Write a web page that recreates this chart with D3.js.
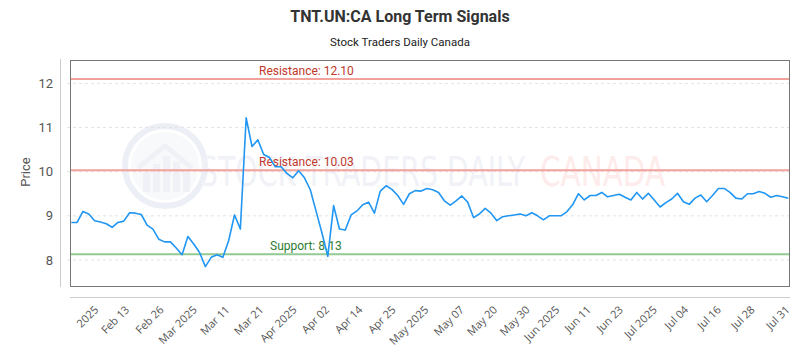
<!DOCTYPE html>
<html><head><meta charset="utf-8">
<script src="https://cdn.jsdelivr.net/npm/d3@7"></script>
<style>body{margin:0;background:#fff}svg{display:block;font-family:Roboto,"Open Sans",sans-serif}</style>
</head><body><svg id="c" width="800" height="350"></svg>
<script>
const title = "TNT.UN:CA Long Term Signals";
const subtitle = "Stock Traders Daily Canada";
const prices = [8.85,8.85,9.10,9.04,8.89,8.86,8.82,8.74,8.85,8.88,9.07,9.06,9.03,8.79,8.70,8.47,8.41,8.41,8.27,8.12,
8.53,8.36,8.17,7.85,8.06,8.12,8.06,8.44,9.02,8.70,11.22,10.57,10.72,10.39,10.32,10.11,10.11,9.96,9.86,10.02,
9.86,9.59,9.10,8.61,8.08,9.23,8.70,8.68,9.02,9.11,9.25,9.31,9.06,9.56,9.68,9.60,9.46,9.26,9.50,9.57,
9.56,9.62,9.59,9.53,9.34,9.24,9.34,9.45,9.31,8.96,9.04,9.17,9.06,8.89,8.98,9.00,9.02,9.04,9.00,9.07,
9.00,8.91,9.00,9.00,9.00,9.09,9.25,9.50,9.36,9.46,9.46,9.53,9.43,9.46,9.49,9.42,9.36,9.53,9.38,9.51,
9.36,9.20,9.30,9.38,9.51,9.32,9.26,9.40,9.47,9.32,9.46,9.62,9.62,9.53,9.40,9.38,9.50,9.50,9.55,9.51,
9.42,9.46,9.43,9.40];
const tickIdx = [3.5,8.8,14.7,20.4,26,31.8,37.5,43.1,48.8,54.5,60.1,66.2,71.9,77.5,82.6,88,93.5,99.3,104.7,110.3,116.1,122.1];
const tickLabels = ["2025","Feb 13","Feb 26","Mar 2025","Mar 11","Mar 21","Apr 2025","Apr 02","Apr 14","Apr 25","May 2025","May 07","May 20","May 30","Jun 2025","Jun 11","Jun 23","Jul 2025","Jul 04","Jul 16","Jul 28","Jul 31"];
const yTicks = [8,9,10,11,12];
const levelNames = ["Resistance","Resistance","Support"];
const levelValues = [12.10,10.03,8.13];
const levelKinds = ["r","r","s"];

const svg = d3.select("#c");
const L=70,R=790,T=60,B=286;
const x = d3.scaleLinear().domain([0,prices.length-1]).range([71.3,788.3]);
const y = d3.scaleLinear().domain([7.41,12.53]).range([B,T]);

// titles
svg.append("text").attr("x",400).attr("y",22).attr("text-anchor","middle")
  .attr("font-size",16).attr("font-weight","bold").attr("fill","#333").text(title);
svg.append("text").attr("x",400).attr("y",46).attr("text-anchor","middle")
  .attr("font-size",11.5).attr("fill","#222").text(subtitle);

// watermark
const wm = svg.append("g").attr("opacity",0.45);
wm.append("circle").attr("cx",165).attr("cy",166).attr("r",40).attr("fill","none").attr("stroke","#d7dde9").attr("stroke-width",6);
wm.append("circle").attr("cx",165).attr("cy",166).attr("r",34).attr("fill","#f1f3f8");
[[-22,10],[-12,18],[-2,26],[8,20],[18,12]].forEach(([dx,h])=>{
  wm.append("rect").attr("x",165+dx).attr("y",192-h-10).attr("width",7).attr("height",h+10).attr("fill","#dde2ec");
});
wm.append("path").attr("d","M138 168 L165 146 L192 168").attr("fill","none").attr("stroke","#dde2ec").attr("stroke-width",5);
wm.append("text").attr("x",200).attr("y",186).attr("font-size",40).attr("font-family","'DejaVu Sans Condensed','Liberation Sans Narrow',sans-serif")
  .attr("fill","#dfe4ee").attr("textLength",325).attr("lengthAdjust","spacingAndGlyphs").text("STOCK TRADERS DAILY");
wm.append("text").attr("x",540).attr("y",186).attr("font-size",40).attr("font-family","'DejaVu Sans Condensed','Liberation Sans Narrow',sans-serif")
  .attr("fill","#fbd6d3").attr("textLength",125).attr("lengthAdjust","spacingAndGlyphs").text("CANADA");

// grid
svg.append("g").selectAll("line").data(yTicks).join("line")
  .attr("x1",67).attr("x2",R).attr("y1",d=>y(d)).attr("y2",d=>y(d))
  .attr("stroke","#e3e3e3").attr("stroke-dasharray","3,3");

// y axis line and labels
svg.append("line").attr("x1",60.5).attr("x2",60.5).attr("y1",59).attr("y2",287).attr("stroke","#ccc");
svg.append("g").selectAll("text").data(yTicks).join("text")
  .attr("x",53).attr("y",d=>y(d)).attr("dy","0.35em").attr("text-anchor","end")
  .attr("font-size",13).attr("fill","#555").text(d=>d);
svg.append("text").attr("transform","translate(30,172) rotate(-90)").attr("text-anchor","middle")
  .attr("font-size",13).attr("fill","#555").text("Price");

// levels
levelValues.forEach((v,i)=>{
  const col = levelKinds[i]==="r" ? "#f2a19b" : "#93c993";
  const tcol = levelKinds[i]==="r" ? "#c0392b" : "#2e7d32";
  svg.append("line").attr("x1",L).attr("x2",R).attr("y1",y(v)).attr("y2",y(v)).attr("stroke",col).attr("stroke-width",2);
  svg.append("text").attr("x",levelKinds[i]==="r"?259:270).attr("y",y(v)-4).attr("font-size",12).attr("fill",tcol)
    .text(levelNames[i]+": "+v.toFixed(2));
});

// line
svg.append("path").datum(prices)
  .attr("d",d3.line().x((d,i)=>x(i)).y(d=>y(d)))
  .attr("fill","none").attr("stroke","#2196f3").attr("stroke-width",1.6).attr("stroke-linejoin","round");

// frame
svg.append("rect").attr("x",L+0.5).attr("y",T+0.5).attr("width",R-L-1).attr("height",B-T).attr("fill","none").attr("stroke","#777");

// x axis
svg.append("line").attr("x1",L).attr("x2",R).attr("y1",297.5).attr("y2",297.5).attr("stroke","#ccc");
svg.append("g").selectAll("text").data(tickIdx).join("text")
  .attr("transform",(d)=>`translate(${x(d)+2},${305}) rotate(-45)`)
  .attr("text-anchor","end").attr("dy","0.7em").attr("font-size",11).attr("fill","#555")
  .attr("font-family","'Open Sans',sans-serif")
  .text((d,i)=>tickLabels[i]);
</script></body></html>
